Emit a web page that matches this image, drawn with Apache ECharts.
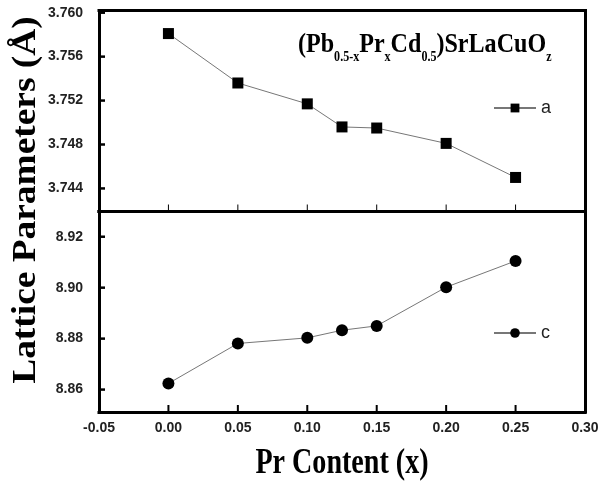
<!DOCTYPE html>
<html>
<head>
<meta charset="utf-8">
<script src="https://cdn.jsdelivr.net/npm/echarts@6/dist/echarts.min.js"></script>
<style>
  body { margin: 0; background: #fff; }
  #chart { width: 615px; height: 484px; }
</style>
</head>
<body>
<div id="chart"></div>
<script>
// Pr content (x) and lattice parameters
var prContent = [0, 0.05, 0.10, 0.125, 0.15, 0.20, 0.25];
var paramA = [3.7581, 3.7536, 3.7517, 3.7496, 3.7495, 3.7481, 3.7450];
var paramC = [8.8624, 8.8781, 8.8803, 8.8833, 8.8850, 8.9002, 8.9105];

var xTicks = [-0.05, 0, 0.05, 0.10, 0.15, 0.20, 0.25, 0.30];
var aTicks = [3.744, 3.748, 3.752, 3.756, 3.760];
var cTicks = [8.86, 8.88, 8.90, 8.92];

// axis ranges of the two panels
var xRange = [-0.05, 0.30];
var aRange = [3.7419, 3.7602];
var cRange = [8.8512, 8.9299];

// formula pieces: [text, isSubscript]
var formula = [['(Pb', 0], ['0.5-x', 1], ['Pr', 0], ['x', 1], ['Cd', 0], ['0.5', 1], [')SrLaCuO', 0], ['z', 1]];

var tickFont = { fontFamily: 'Liberation Sans', fontWeight: 'bold', fontSize: 14, color: '#222' };
var serif = '"Liberation Serif", "DejaVu Serif", serif';
var frame = { show: true, onZero: false, lineStyle: { color: '#000', width: 3, cap: 'square' } };

function pairs(xs, ys) {
	var out = [];
	for (var i = 0; i < xs.length; i++) out.push([xs[i], ys[i]]);
	return out;
}

function xAxisFor(idx, showLabels) {
	return {
		type: 'value', gridIndex: idx, min: xRange[0], max: xRange[1], position: 'bottom',
		axisLine: frame,
		splitLine: { show: false },
		axisTick: { show: false },
		axisLabel: Object.assign({
			show: showLabels, margin: 9, customValues: xTicks,
			formatter: function (v) { return v.toFixed(2); }
		}, tickFont)
	};
}

function yAxisFor(idx, range, ticks, digits) {
	return {
		type: 'value', gridIndex: idx, min: range[0], max: range[1], position: 'left',
		axisLine: frame,
		splitLine: { show: false },
		axisTick: { show: false },
		axisLabel: Object.assign({
			margin: 16, customValues: ticks,
			formatter: function (v) { return v.toFixed(digits); }
		}, tickFont)
	};
}

// plain line on the opposite side, to close the frame
function edgeAxis(kind, idx, range) {
	return {
		type: 'value', gridIndex: idx, min: range[0], max: range[1], position: kind,
		axisLine: frame, axisTick: { show: false }, axisLabel: { show: false }, splitLine: { show: false }
	};
}

// inward tick marks, placed through the axis scales
function tickSeries(idx, data, dx, dy, w) {
	return {
		type: 'custom', xAxisIndex: idx, yAxisIndex: idx, silent: true, clip: false, z: 5,
		data: data,
		renderItem: function (params, api) {
			var p = api.coord([api.value(0), api.value(1)]);
			return { type: 'line', shape: { x1: p[0], y1: p[1], x2: p[0] + dx, y2: p[1] + dy },
				style: { stroke: '#000', lineWidth: w } };
		}
	};
}

// lay out the formula text piece by piece so subscripts can drop below the baseline
function formulaGroup() {
	var ctx = document.createElement('canvas').getContext('2d');
	var kids = [];
	var x = 0;
	formula.forEach(function (p) {
		var size = p[1] ? 14 : 28;
		var font = 'bold ' + size + 'px ' + serif;
		ctx.font = font;
		kids.push({
			type: 'text', x: x, y: p[1] ? 12 : 0,
			style: { text: p[0], font: font, fill: '#000', textAlign: 'left', textVerticalAlign: 'middle' }
		});
		x += ctx.measureText(p[0]).width;
	});
	return { type: 'group', x: 298, y: 45, scaleX: 0.86, children: kids };
}

var chart = echarts.init(document.getElementById('chart'));

var option = {
	animation: false,
	backgroundColor: '#fff',
	grid: [
		{ left: 99, width: 486, top: 10.5, height: 201 },
		{ left: 99, width: 486, top: 211.5, height: 200.5 }
	],
	xAxis: [
		xAxisFor(0, false), xAxisFor(1, true),
		edgeAxis('top', 0, xRange), edgeAxis('top', 1, xRange)
	],
	yAxis: [
		yAxisFor(0, aRange, aTicks, 3),
		yAxisFor(1, cRange, cTicks, 2),
		edgeAxis('right', 0, aRange), edgeAxis('right', 1, cRange)
	],
	legend: [
		{ data: ['a'], left: 488, top: 94, itemWidth: 42, itemHeight: 11, itemGap: 5,
			textStyle: { fontFamily: 'Liberation Sans', fontSize: 18, color: '#222' } },
		{ data: ['c'], left: 488, top: 319, itemWidth: 42, itemHeight: 12, itemGap: 5,
			textStyle: { fontFamily: 'Liberation Sans', fontSize: 18, color: '#222' } }
	],
	series: [
		{
			name: 'a', type: 'line', xAxisIndex: 0, yAxisIndex: 0,
			data: pairs(prContent, paramA),
			symbol: 'rect', symbolSize: 11,
			itemStyle: { color: '#000' },
			lineStyle: { color: '#777', width: 1 }
		},
		{
			name: 'c', type: 'line', xAxisIndex: 1, yAxisIndex: 1,
			data: pairs(prContent, paramC),
			symbol: 'circle', symbolSize: 12,
			itemStyle: { color: '#000' },
			lineStyle: { color: '#777', width: 1 }
		},
		tickSeries(0, aTicks.map(function (v) { return [xRange[0], v]; }), 6, 0, 2.5),
		tickSeries(1, cTicks.map(function (v) { return [xRange[0], v]; }), 6, 0, 2.5),
		tickSeries(0, xTicks.map(function (v) { return [v, aRange[0]]; }), 0, -7, 1),
		tickSeries(1, xTicks.map(function (v) { return [v, cRange[0]]; }), 0, -7, 2)
	],
	graphic: [
		{
			type: 'text', x: 26, y: 200, rotation: Math.PI / 2, scaleX: 1.1,
			style: { text: 'Lattice Parameters (Å)', fontFamily: serif, fontWeight: 'bold', fontSize: 34,
				fill: '#000', textAlign: 'center', textVerticalAlign: 'middle' }
		},
		{
			type: 'text', x: 342, y: 464, scaleX: 0.78,
			style: { text: 'Pr Content (x)', fontFamily: serif, fontWeight: 'bold', fontSize: 36,
				fill: '#000', textAlign: 'center', textVerticalAlign: 'middle' }
		},
		formulaGroup()
	]
};

chart.setOption(option);
</script>
</body>
</html>
